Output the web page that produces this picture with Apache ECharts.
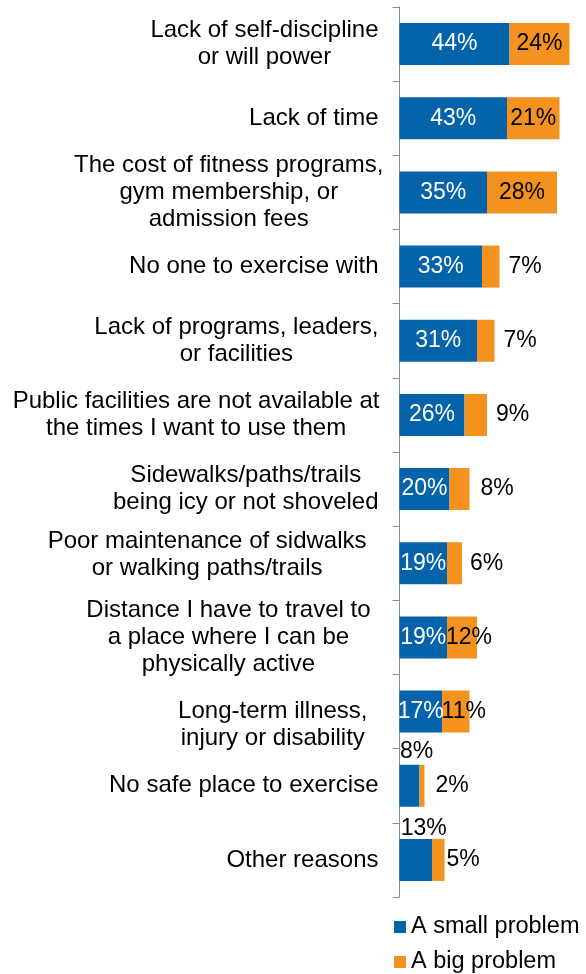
<!DOCTYPE html>
<html>
<head>
<meta charset="utf-8">
<script src="https://cdn.jsdelivr.net/npm/echarts@6/dist/echarts.min.js"></script>
<style>
  html, body { margin: 0; padding: 0; background: #fff; }
  #chart { width: 586px; height: 974px; }
</style>
</head>
<body>
<div id="chart"></div>
<script>
// ---------- data ----------
const categories = [
  "Lack of self-discipline\nor will power",
  "Lack of time",
  "The cost of fitness programs,\ngym membership, or\nadmission fees",
  "No one to exercise with",
  "Lack of programs, leaders,\nor facilities",
  "Public facilities are not available at\nthe times I want to use them",
  "Sidewalks/paths/trails\nbeing icy or not shoveled",
  "Poor maintenance of sidwalks\nor walking paths/trails",
  "Distance I have to travel to\na place where I can be\nphysically active",
  "\nLong-term illness,\ninjury or disability",
  "No safe place to exercise",
  "Other reasons"
];
const seriesNames = ["A small problem", "A big problem"];
const smallProblem = [44, 43, 35, 33, 31, 26, 20, 19, 19, 17, 8, 13];
const bigProblem   = [24, 21, 28, 7, 7, 9, 8, 6, 12, 11, 2, 5];

// ---------- styling ----------
const FONT = "'Liberation Sans', Arial, sans-serif";
const BLUE = '#0563AA';
const ORANGE = '#F3921F';

// per-category label nudges (style only)
const labelRightPad = [5, 5, 0, 5, 5, 4, 5, 17, 13, 16, 5, 5];
const labelBottomSpacer = { 7: 16 };

const rich = {};
categories.forEach((c, i) => {
  rich['c' + i] = {
    fontSize: 24, lineHeight: 27, color: '#000', fontFamily: FONT,
    align: 'center', padding: [0, labelRightPad[i], 0, 0]
  };
});
rich.sp = { fontSize: 10, lineHeight: 16, fontFamily: FONT };

function catFormatter(value, index) {
  const lines = value.split('\n').map(l => '{c' + index + '|' + (l === '' ? ' ' : l) + '}');
  if (labelBottomSpacer[index]) {
    lines.push('{sp| }');
  }
  return lines.join('\n');
}

// blue labels: placements
const smallLabelOverride = {
  10: { position: 'top', color: '#000', offset: [7, 0], distance: 2 },
  11: { position: 'top', color: '#000', offset: [8, 0], distance: -1 }
};
// orange labels: placements
const bigLabelOverride = {
  3: { position: 'right', distance: 9 },
  4: { position: 'right', distance: 9 },
  5: { position: 'right', distance: 9 },
  6: { position: 'right', distance: 11 },
  7: { position: 'right', distance: 8 },
  8: { position: 'inside', offset: [7, 0] },
  9: { position: 'inside', offset: [8, 0] },
  10: { position: 'right', distance: 11 },
  11: { position: 'right', distance: 2 }
};

const smallData = smallProblem.map((v, i) => smallLabelOverride[i] ? { value: v, label: smallLabelOverride[i] } : v);
const bigData = bigProblem.map((v, i) => bigLabelOverride[i] ? { value: v, label: bigLabelOverride[i] } : v);

const legendBase = {
  type: 'plain', orient: 'vertical', left: 394, padding: 0,
  itemWidth: 12, itemHeight: 12, icon: 'rect',
  textStyle: { fontSize: 23.5, color: '#000', fontFamily: FONT, lineHeight: 23 }
};

const chart = echarts.init(document.getElementById('chart'), null, { renderer: 'canvas' });
chart.setOption({
  animation: false,
  backgroundColor: '#fff',
  textStyle: { fontFamily: FONT },
  grid: { left: 399.5, top: 7, width: 185, height: 890, containLabel: false },
  xAxis: {
    type: 'value', min: 0, max: 74,
    show: false, splitLine: { show: false }
  },
  yAxis: {
    type: 'category',
    data: categories,
    inverse: true,
    axisLine: { show: true, lineStyle: { color: '#8C8C8C', width: 1 } },
    axisTick: { show: true, length: 7, lineStyle: { color: '#8C8C8C' } },
    axisLabel: {
      interval: 0, margin: 16, color: '#000', fontSize: 24, fontFamily: FONT,
      formatter: catFormatter, rich: rich
    }
  },
  legend: [
    Object.assign({}, legendBase, { data: [seriesNames[0]], top: 915 }),
    Object.assign({}, legendBase, { data: [seriesNames[1]], top: 950 })
  ],
  series: [
    {
      name: seriesNames[0], type: 'bar', stack: 'total', barWidth: 42,
      itemStyle: { color: BLUE },
      label: { show: true, position: 'inside', color: '#fff', fontSize: 23, fontFamily: FONT, formatter: '{c}%' },
      data: smallData
    },
    {
      name: seriesNames[1], type: 'bar', stack: 'total', barWidth: 42,
      itemStyle: { color: ORANGE },
      label: { show: true, position: 'inside', color: '#000', fontSize: 23, fontFamily: FONT, formatter: '{c}%' },
      data: bigData
    }
  ]
});
</script>
</body>
</html>
